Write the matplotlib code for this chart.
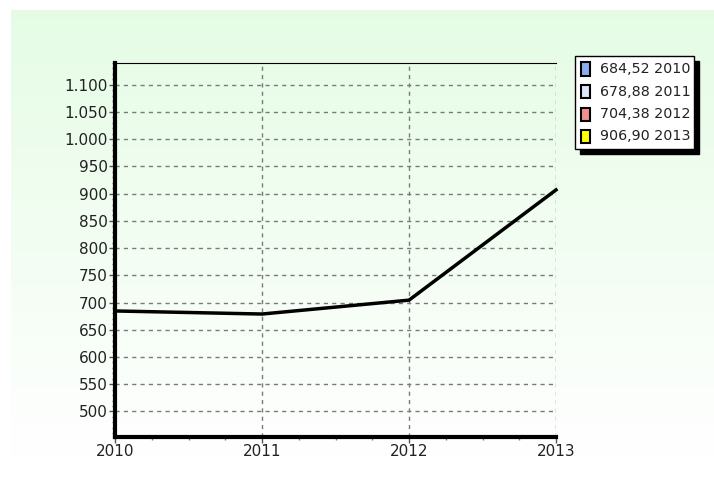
import numpy as np
import matplotlib
matplotlib.use("Agg")
import matplotlib.pyplot as plt
from matplotlib.patches import Rectangle
from matplotlib.ticker import FuncFormatter, MultipleLocator

years = [2010, 2011, 2012, 2013]
values = [684.52, 678.88, 704.38, 906.90]
legend_colors = ["#8aaef0", "#dde4fa", "#f0908c", "#ffff00"]
y_ticks = [500, 550, 600, 650, 700, 750, 800, 850, 900, 950, 1000, 1050, 1100]

W, H = 714, 480
fig = plt.figure(figsize=(W / 100, H / 100), dpi=100)
fig.patch.set_facecolor("white")

def px(x, y, w, h):
    # pixel box (top-left origin) -> figure fraction
    return [x / W, 1 - (y + h) / H, w / W, h / H]

# green-to-white background panel
bg = fig.add_axes(px(11, 10, 703, 448))
grad = np.linspace(0, 1, 256).reshape(-1, 1)
top = np.array([0.898, 0.988, 0.898])
bot = np.array([1.0, 1.0, 1.0])
img = top + (bot - top) * grad[:, :, None]
bg.imshow(img, aspect="auto", extent=[0, 1, 0, 1])
bg.axis("off")
bg.set_zorder(-5)

ax = fig.add_axes(px(115, 63, 441, 374))
ax.set_facecolor("none")
ax.plot(years, values, color="black", lw=2.5, solid_joinstyle="miter", zorder=5, clip_on=False)

ax.set_xlim(2010, 2013)
ax.set_ylim(453, 1140)
ax.set_xticks(years)
ax.set_yticks(y_ticks)
ax.xaxis.set_minor_locator(MultipleLocator(0.25))
ax.yaxis.set_minor_locator(MultipleLocator(10))
ax.yaxis.set_major_formatter(FuncFormatter(lambda v, p: f"{int(v):,}".replace(",", ".")))

ax.grid(True, which="major", color="#7a7a7a", linestyle=(0, (3, 3)), lw=1.0)
ax.tick_params(axis="both", which="major", length=4, width=1, color="#555555",
               labelsize=11, labelcolor="#222222")
ax.tick_params(axis="both", which="minor", length=2, width=1, color="#777777")
ax.tick_params(axis="x", pad=1)
ax.tick_params(axis="y", pad=1)

ax.spines["left"].set_linewidth(3)
ax.spines["bottom"].set_linewidth(3)
ax.spines["top"].set_linewidth(0.8)
ax.spines["right"].set_visible(False)
for s in ax.spines.values():
    s.set_color("black")

# legend with hard black shadow
lx, ly, lw_, lh = 575, 56, 119, 93
sh = Rectangle((px(lx + 5, ly + 5, lw_, lh)[0], px(lx + 5, ly + 5, lw_, lh)[1]),
               lw_ / W, lh / H, transform=fig.transFigure, facecolor="black",
               edgecolor="black", zorder=10)
box = Rectangle((px(lx, ly, lw_, lh)[0], px(lx, ly, lw_, lh)[1]),
                lw_ / W, lh / H, transform=fig.transFigure, facecolor="white",
                edgecolor="black", lw=1, zorder=11)
fig.add_artist(sh)
fig.add_artist(box)
for i, (yr, v, c) in enumerate(zip(years, values, legend_colors)):
    cy = 69 + i * 22.5
    b = px(581, cy - 6.5, 9, 13)
    fig.add_artist(Rectangle((b[0], b[1]), b[2], b[3], transform=fig.transFigure,
                             facecolor=c, edgecolor="black", lw=1.5, zorder=12))
    label = f"{v:.2f}".replace(".", ",") + f" {yr}"
    fig.text(600 / W, 1 - cy / H, label, fontsize=10.3, color="#222222",
             va="center", ha="left", zorder=13)

fig.savefig("out.png", dpi=100)
